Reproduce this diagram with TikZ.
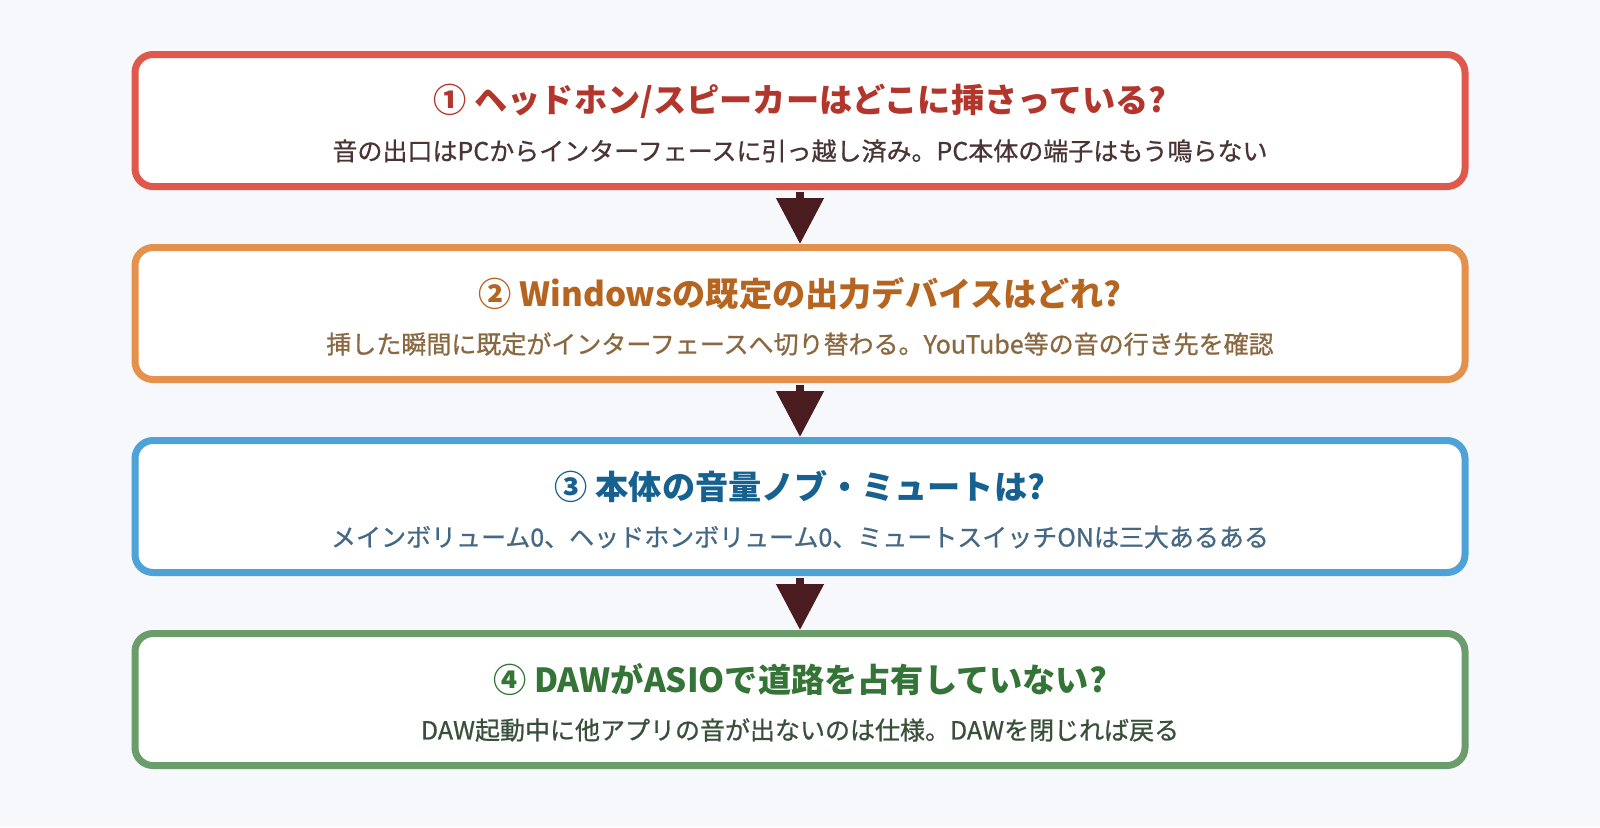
\documentclass[tikz,border=0pt]{standalone}
\usepackage{fontspec}
\setmainfont{Noto Sans CJK JP}
\newfontfamily\subfont{Noto Sans CJK JP}[FakeBold=0.8]
\usetikzlibrary{arrows.meta}

\definecolor{bgcol}{HTML}{F7F8FB}
\definecolor{redline}{HTML}{E0574B}
\definecolor{redtext}{HTML}{B2362B}
\definecolor{redsub}{HTML}{4A3434}
\definecolor{orangeline}{HTML}{E3914B}
\definecolor{orangetext}{HTML}{B5651F}
\definecolor{orangesub}{HTML}{8A6840}
\definecolor{blueline}{HTML}{4EA2D7}
\definecolor{bluetext}{HTML}{16618F}
\definecolor{bluesub}{HTML}{456884}
\definecolor{greenline}{HTML}{6A9D6B}
\definecolor{greentext}{HTML}{357437}
\definecolor{greensub}{HTML}{38503A}
\definecolor{arrowcol}{HTML}{4A1C1F}

\tikzset{
  stepbox/.style={draw=#1, fill=white, line width=3.5pt, rounded corners=9pt,
    minimum width=665pt, minimum height=66pt, inner sep=0pt},
  ttl/.style={text=#1, font=\fontsize{16.6}{19}\selectfont\bfseries},
  sub/.style={text=#1, font=\subfont\fontsize{12.5}{14}\selectfont},
  flow/.style={draw=arrowcol, line width=4pt, shorten <=1pt,
    -{Triangle[width=23pt, length=23pt]}}
}

\begin{document}
\begin{tikzpicture}[x=0.5pt, y=-0.5pt]
\fill[bgcol] (0,0) rectangle (1600,827);
\useasboundingbox (0,0) rectangle (1600,827);
% step boxes
\node[stepbox=redline] (B1) at (800,120.5) {};
\node[ttl=redtext] (T1) at (800,101) {① ヘッドホン/スピーカーはどこに挿さっている?};
\node[sub=redsub] (S1) at (800,151) {音の出口はPCからインターフェースに引っ越し済み。PC本体の端子はもう鳴らない};
\node[stepbox=orangeline] (B2) at (800,313.5) {};
\node[ttl=orangetext] (T2) at (800,294) {② Windowsの既定の出力デバイスはどれ?};
\node[sub=orangesub] (S2) at (800,344) {挿した瞬間に既定がインターフェースへ切り替わる。YouTube等の音の行き先を確認};
\node[stepbox=blueline] (B3) at (800,506.5) {};
\node[ttl=bluetext] (T3) at (800,487) {③ 本体の音量ノブ・ミュートは?};
\node[sub=bluesub] (S3) at (800,537) {メインボリューム0、ヘッドホンボリューム0、ミュートスイッチONは三大あるある};
\node[stepbox=greenline] (B4) at (800,699.5) {};
\node[ttl=greentext] (T4) at (800,680) {④ DAWがASIOで道路を占有していない?};
\node[sub=greensub] (S4) at (800,730) {DAW起動中に他アプリの音が出ないのは仕様。DAWを閉じれば戻る};
% arrows
\draw[flow] (B1) -- (B2);
\draw[flow] (B2) -- (B3);
\draw[flow] (B3) -- (B4);
\end{tikzpicture}
\end{document}
